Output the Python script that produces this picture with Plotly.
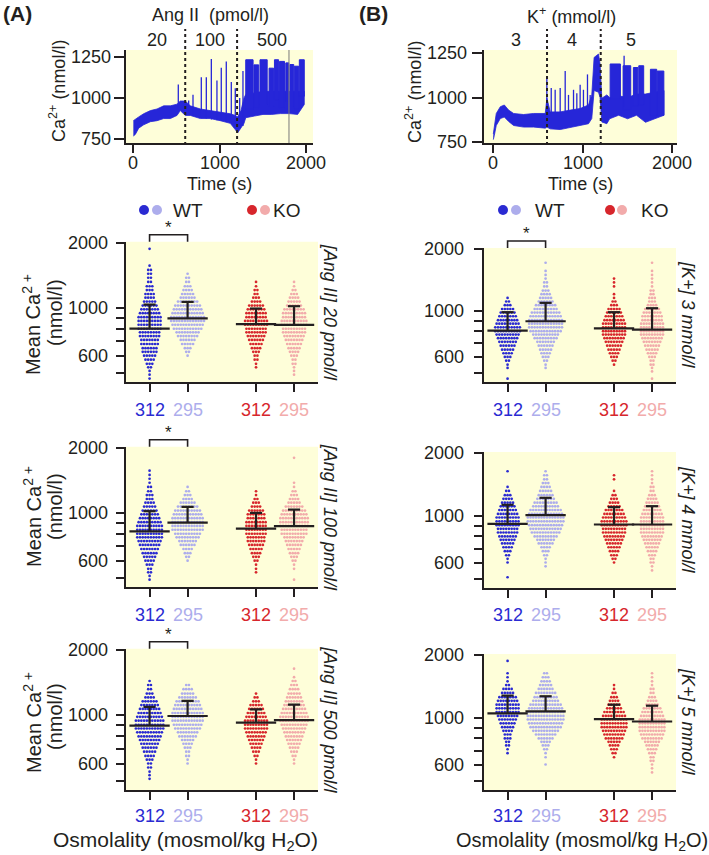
import plotly.graph_objects as go
import math

W, H = 709, 855
FONT = "Liberation Sans, Arial, Helvetica, sans-serif"
INK = "#231f20"
BG = "#fefed9"
TRACE_BLUE = "#2626d8"

# ------------------------------------------------------------------ data
TIME_TICKS = [0, 1000, 2000]
TRACE_TICKS = [750, 1000, 1250]
CA_TICKS = [500, 600, 700, 800, 900, 1000, 2000]
CA_TICK_TEXT = ["", "600", "", "", "", "1000", "2000"]

GROUP_LABELS = ["312", "295", "312", "295"]
GROUP_X = [1.0, 2.0, 3.8, 4.8]
GROUP_COLORS = ["#2a2ad2", "#adadec", "#d7262c", "#f2abab"]

# Ca2+ value of each dot row (nmol/l)
BINS = [470, 490, 510, 530, 550, 575, 600, 625, 650, 680, 710, 740, 770, 800, 835,
        870, 905, 945, 985, 1025, 1070, 1115, 1160, 1210, 1260, 1320, 1380, 1440,
        1500, 1570, 1640, 1720, 1800, 1880]

# cells per row, for WT312, WT295, KO312, KO295
COUNTS_ANG20 = [
    [1,1,1,2,3, 4,5,6,6,7, 7,8,8,9,9, 9,9,8,7,6, 5,4,4,3,3, 2,2,2,2,1, 0,0,0,1],
    [0,0,0,0,0, 0,1,2,3,5, 6,8,9,11,12, 13,13,12,11,10, 8,6,5,4,3, 2,2,1,0,0, 0,0,0,0],
    [0,0,0,1,1, 2,2,3,4,5, 6,7,8,8,9, 9,8,8,7,6, 4,3,2,2,1, 1,0,0,0,0, 0,0,0,0],
    [0,1,1,1,2, 2,3,4,5,6, 7,8,9,9,10, 10,9,9,8,6, 5,4,3,2,1, 1,0,0,0,0, 0,0,0,0],
]
COUNTS_ANG100 = [
    [0,1,1,2,2, 3,4,5,6,7, 8,9,10,10,10, 10,9,8,7,6, 5,4,3,3,2, 2,1,1,1,1, 0,0,0,0],
    [0,0,0,0,0, 0,1,2,3,4, 6,7,9,10,12, 12,12,12,11,10, 8,6,4,3,2, 1,0,0,0,0, 0,0,0,0],
    [0,0,0,1,1, 1,2,3,4,5, 6,7,7,8,8, 8,8,7,7,6, 4,3,2,1,1, 0,0,0,0,0, 0,0,0,0],
    [0,1,0,0,1, 1,2,3,4,5, 6,7,8,10,10, 11,11,11,10,9, 7,5,4,3,2, 1,1,0,0,0, 0,0,1,0],
]
COUNTS_ANG500 = [
    [0,0,1,1,1, 2,2,3,4,5, 6,7,8,9,10, 11,11,11,10,9, 8,7,6,4,3, 2,2,1,0,0, 0,0,0,0],
    [0,0,0,0,0, 0,1,1,2,2, 3,4,5,7,8, 10,11,12,12,12, 11,10,9,7,5, 4,2,0,0,0, 0,0,0,0],
    [0,0,0,0,0, 0,1,1,2,3, 4,5,6,7,8, 9,9,9,8,7, 6,5,3,2,1, 0,0,0,0,0, 0,0,0,0],
    [0,0,0,0,0, 0,1,1,2,3, 4,5,6,7,8, 9,10,11,11,10, 9,8,7,6,5, 4,3,2,1,0, 1,0,0,0],
]
COUNTS_K3 = [
    [1,0,0,1,1, 2,3,4,5,6, 7,8,9,10,10, 9,8,7,6,5, 3,2,1,0,0, 0,0,0,0,0, 0,0,0,0],
    [0,0,0,1,1, 2,3,4,5,6, 7,9,10,12,13, 13,13,12,11,9, 8,6,5,4,3, 2,2,1,1,1, 0,1,0,0],
    [0,0,0,0,1, 2,3,4,5,6, 7,8,9,9,9, 9,8,7,6,5, 3,2,1,1,0, 1,1,1,0,0, 0,0,0,0],
    [1,0,1,1,2, 2,3,4,5,6, 7,8,9,9,9, 9,8,8,7,6, 4,3,3,2,2, 1,1,1,1,1, 0,1,0,0],
]
COUNTS_K4 = [
    [0,0,1,0,0, 0,1,1,2,3, 4,5,6,7,8, 8,9,9,9,8, 7,6,5,4,3, 2,1,0,0,0, 1,0,0,0],
    [0,0,0,0,0, 1,1,1,2,3, 4,6,7,9,11, 12,13,14,14,13, 12,10,9,7,6, 5,4,3,2,2, 1,0,0,0],
    [0,0,0,0,0, 0,1,2,3,4, 5,6,7,8,9, 9,10,10,9,8, 7,5,4,3,2, 1,0,0,1,1, 0,0,0,0],
    [0,0,0,0,1, 1,2,2,3,4, 5,6,7,8,9, 9,9,9,9,8, 7,6,5,4,3, 2,2,1,1,1, 1,0,0,0],
]
COUNTS_K5 = [
    [0,0,0,0,0, 0,0,0,0,1, 1,2,2,3,3, 4,5,6,7,8, 9,9,9,8,7, 5,4,2,1,1, 1,0,0,1],
    [0,0,0,0,0, 0,1,0,1,1, 2,3,4,6,8, 10,12,13,14,14, 14,13,12,10,9, 8,6,5,4,3, 2,0,0,0],
    [0,0,0,0,0, 0,0,0,1,2, 3,4,5,7,8, 9,10,10,10,9, 8,6,5,4,3, 2,1,1,0,0, 0,0,0,0],
    [0,0,0,0,1, 1,1,2,2,3, 4,5,6,8,9, 10,10,10,10,9, 8,7,5,4,3, 2,2,1,1,1, 1,0,0,0],
]

MEAN_ANG20 = [802, 893, 840, 834]
SDTOP_ANG20 = [1036, 1066, 993, 1018]
MEAN_ANG100 = [820, 902, 846, 868]
SDTOP_ANG100 = [1018, 1066, 1000, 1036]
MEAN_ANG500 = [896, 993, 925, 951]
SDTOP_ANG500 = [1093, 1165, 1066, 1121]
MEAN_K3 = [805, 894, 826, 814]
SDTOP_K3 = [989, 1098, 989, 1034]
MEAN_K4 = [919, 1011, 912, 912]
SDTOP_K4 = [1133, 1224, 1104, 1116]
MEAN_K5 = [1053, 1077, 989, 964]
SDTOP_K5 = [1282, 1273, 1160, 1147]

PANEL_LABELS = ["[Ang II] 20 pmol/l", "[Ang II] 100 pmol/l", "[Ang II] 500 pmol/l",
                "[K+] 3 mmol/l", "[K+] 4 mmol/l", "[K+] 5 mmol/l"]
SIGNIFICANT = [True, True, True, True, False, False]

# example Ca2+ traces: envelope of the fast oscillation (time s, low, high)
TRACE_A_T = [0, 23, 62, 119, 197, 274, 351, 428, 505, 543, 601, 659, 775, 890, 1006,
             1121, 1179, 1206, 1245, 1280, 1300, 1400, 1500, 1600, 1700, 1800, 1900, 1977]
TRACE_A_LO = [769, 779, 817, 837, 856, 862, 875, 875, 894, 923, 894, 894, 875, 875, 862,
              846, 808, 788, 817, 846, 880, 890, 900, 900, 905, 905, 900, 960]
TRACE_A_HI = [862, 869, 885, 904, 923, 933, 952, 952, 962, 981, 981, 952, 933, 923, 913,
              904, 894, 885, 923, 1000, 1020, 1030, 1040, 1040, 1040, 1040, 1040, 1040]
SPIKE_A_T = [520, 640, 690, 786, 844, 902, 967, 1017, 1075, 1133, 1179, 1230, 1268]
SPIKE_A_BASE = [930, 900, 890, 880, 875, 870, 865, 860, 855, 850, 840, 820, 830]
SPIKE_A_PEAK = [1081, 985, 1019, 1125, 1125, 1235, 1106, 1183, 1221, 1096, 1058, 1000, 1163]
BURST_A_START = [1300, 1395, 1465, 1570, 1632, 1690, 1763, 1812, 1862, 1920]
BURST_A_END = [1385, 1450, 1548, 1622, 1680, 1748, 1798, 1855, 1912, 1977]
BURST_A_LO = [930, 940, 960, 950, 990, 940, 980, 950, 930, 1010]
BURST_A_HI = [1231, 1200, 1231, 1180, 1231, 1221, 1212, 1202, 1192, 1231]

TRACE_B_T = [0, 11, 33, 78, 123, 171, 227, 338, 450, 580, 599, 636, 747, 859, 970, 1063,
             1100, 1126, 1175, 1193, 1212, 1268, 1300, 1400, 1500, 1600, 1700, 1800, 1907]
TRACE_B_LO = [762, 785, 842, 881, 890, 865, 842, 833, 833, 827, 833, 823, 819, 833, 842,
              852, 881, 1040, 1030, 1000, 862, 852, 880, 900, 880, 900, 860, 880, 900]
TRACE_B_HI = [794, 842, 910, 948, 958, 929, 910, 904, 910, 910, 996, 919, 919, 929, 938,
              958, 1015, 1227, 1246, 1188, 996, 1015, 1000, 1010, 1000, 1020, 1020, 1030, 1040]
SPIKE_B_T = [598, 647, 691, 747, 803, 840, 896, 933, 970, 1007, 1052, 1082, 1461]
SPIKE_B_BASE = [900, 910, 910, 915, 920, 920, 925, 930, 935, 940, 950, 955, 950]
SPIKE_B_PEAK = [1121, 1054, 1044, 1054, 1150, 1015, 1044, 1025, 1073, 1044, 1131, 1015, 1237]
BURST_B_START = [1305, 1450, 1565, 1625, 1755, 1830]
BURST_B_END = [1420, 1535, 1615, 1680, 1825, 1905]
BURST_B_LO = [990, 930, 950, 960, 900, 900]
BURST_B_HI = [1190, 1180, 1170, 1180, 1160, 1150]

# ------------------------------------------------------------------ layout geometry (px)
TOP_Y = (50, 143)
TRACE_COLS = [(126, 313), (484, 677)]
TRACE_XR = [(-85, 2078), (-104, 2052)]
TRACE_YR = [(727, 1290), (743, 1269)]
COL_X = [(126, 318), (484, 676)]
ROWS = [[(241.7, 382), (446.7, 587), (648.7, 790)],
        [(248, 382), (452, 588), (654, 790)]]
LABEL_Y = [410, 615, 816]
CAT_RANGE = (0.38, 5.43)
Y_RANGE = (math.log10(453), math.log10(2028))
DX = 0.072
HALF_MEAN = 0.53
HALF_CAP = 0.16
TICK_FONT = 18


def fx(px):
    return px / W


def fy(py):
    return 1 - py / H


def aname(k, a):
    return (a + "axis") if k == 1 else f"{a}axis{k}"


def aref(k, a):
    return a if k == 1 else f"{a}{k}"


def axis_common(**kw):
    d = dict(showline=True, linewidth=2, linecolor=INK, ticks="outside", ticklen=8,
             tickwidth=2, tickcolor=INK, showgrid=False, zeroline=False,
             showticklabels=False, fixedrange=True)
    d.update(kw)
    return d


fig = go.Figure()
layout = {}
shapes = []
ann = []


def text(x, y, s, size=17, color=INK, xanchor="center", yanchor="middle", angle=0,
         xref="paper", yref="paper"):
    ann.append(dict(x=x, y=y, xref=xref, yref=yref, text=s, showarrow=False,
                    font=dict(size=size, color=color, family=FONT), xanchor=xanchor,
                    yanchor=yanchor, textangle=angle))


def polygon(xs, ys, xr, yr, width=0.8):
    fig.add_trace(go.Scatter(x=xs, y=ys, mode="lines", fill="toself",
                             fillcolor=TRACE_BLUE, line=dict(color=TRACE_BLUE, width=width),
                             xaxis=xr, yaxis=yr, hoverinfo="skip"))


# ------------------------------------------------------------------ top traces
trace_sets = [
    (TRACE_A_T, TRACE_A_LO, TRACE_A_HI, SPIKE_A_T, SPIKE_A_BASE, SPIKE_A_PEAK,
     BURST_A_START, BURST_A_END, BURST_A_LO, BURST_A_HI),
    (TRACE_B_T, TRACE_B_LO, TRACE_B_HI, SPIKE_B_T, SPIKE_B_BASE, SPIKE_B_PEAK,
     BURST_B_START, BURST_B_END, BURST_B_LO, BURST_B_HI),
]
TRACE_LABEL_RIGHT = [113, 469]
for i, (T, LO, HI, ST, SB, SP, BS, BE, BL, BH) in enumerate(trace_sets):
    k = i + 1
    xr, yr = aref(k, "x"), aref(k, "y")
    polygon(T + T[::-1], HI + LO[::-1], xr, yr)
    for s, e, lo, hi in zip(BS, BE, BL, BH):
        polygon([s, s, e, e, s], [lo, hi, hi, lo, lo], xr, yr, width=1)
    sx, sy = [], []
    for t, b, p in zip(ST, SB, SP):
        sx += [t, t, None]
        sy += [b, p, None]
    fig.add_trace(go.Scatter(x=sx, y=sy, mode="lines", line=dict(color=TRACE_BLUE, width=1.3),
                             xaxis=xr, yaxis=yr, hoverinfo="skip"))
    c0, c1 = TRACE_COLS[i]
    layout[aname(k, "x")] = axis_common(domain=[fx(c0), fx(c1)], range=list(TRACE_XR[i]),
                                        tickvals=TIME_TICKS, anchor=yr)
    layout[aname(k, "y")] = axis_common(domain=[fy(TOP_Y[1]), fy(TOP_Y[0])],
                                        range=list(TRACE_YR[i]), tickvals=TRACE_TICKS,
                                        anchor=xr, ticklen=10)
    shapes.append(dict(type="rect", xref=f"{xr} domain", yref=f"{yr} domain", x0=0, x1=1,
                       y0=0, y1=1, fillcolor=BG, line=dict(width=0), layer="below"))
    for tline in (600, 1200):
        shapes.append(dict(type="line", xref=xr, yref="paper", x0=tline, x1=tline,
                           y0=fy(145), y1=fy(29), line=dict(color=INK, width=2, dash="dot"),
                           layer="above"))
    for tv in TIME_TICKS:
        text(tv, fy(163), f"{tv}", size=TICK_FONT, xref=xr)
    for cv in TRACE_TICKS:
        text(fx(TRACE_LABEL_RIGHT[i]), cv, f"{cv}", size=TICK_FONT, xanchor="right", yref=yr)
    text(fx((c0 + c1) / 2), fy(184), "Time (s)", size=18)

shapes.append(dict(type="line", xref="x", yref="paper", x0=1800, x1=1800, y0=fy(143),
                   y1=fy(50), line=dict(color="#7a7a7a", width=1), layer="above"))

text(fx(58), fy(91), "Ca<sup>2+</sup> (nmol/l)", size=18, angle=-90)
text(fx(413), fy(92), "Ca<sup>2+</sup> (nmol/l)", size=18, angle=-90)
text(fx(1), fy(14), "<b>(A)</b>", size=21, xanchor="left")
text(fx(357), fy(14), "<b>(B)</b>", size=21, xanchor="left")
text(fx(210), fy(15), "Ang II\u00a0 (pmol/l)", size=18)
text(fx(571), fy(15), "K<sup>+</sup> (mmol/l)", size=18)
for t, s in zip([274, 887, 1600], ["20", "100", "500"]):
    text(t, fy(40), s, size=18, xref="x")
for t, s in zip([257, 883, 1535], ["3", "4", "5"]):
    text(t, fy(40), s, size=18, xref="x2")

# ------------------------------------------------------------------ legend (pixel overlay)
OVR = 9
leg_x, leg_y, leg_c = [], [], []
for (d1, d2, r1, r2) in [(144, 157, 252, 265), (503, 516, 610, 622)]:
    leg_x += [d1, d2, r1, r2]
    leg_y += [210] * 4
    leg_c += GROUP_COLORS
fig.add_trace(go.Scatter(x=leg_x, y=leg_y, mode="markers",
                         marker=dict(size=10, color=leg_c, line=dict(width=0)),
                         xaxis=f"x{OVR}", yaxis=f"y{OVR}", hoverinfo="skip"))
for x0, s in [(171, "WT"), (271, "KO"), (533, "WT"), (639, "KO")]:
    text(fx(x0), fy(210), s, size=19, xanchor="left")

# ------------------------------------------------------------------ scatter panels
panels = [
    (COUNTS_ANG20, MEAN_ANG20, SDTOP_ANG20),
    (COUNTS_ANG100, MEAN_ANG100, SDTOP_ANG100),
    (COUNTS_ANG500, MEAN_ANG500, SDTOP_ANG500),
    (COUNTS_K3, MEAN_K3, SDTOP_K3),
    (COUNTS_K4, MEAN_K4, SDTOP_K4),
    (COUNTS_K5, MEAN_K5, SDTOP_K5),
]
CA_LABEL_RIGHT = [110, 466]
br_x, br_y = [], []
for p, (counts, means, tops) in enumerate(panels):
    col, row = p // 3, p % 3
    k = 3 + p
    xr, yr = aref(k, "x"), aref(k, "y")
    c0, c1 = COL_X[col]
    r0, r1 = ROWS[col][row]
    layout[aname(k, "x")] = axis_common(domain=[fx(c0), fx(c1)], range=list(CAT_RANGE),
                                        tickvals=GROUP_X, anchor=yr)
    layout[aname(k, "y")] = axis_common(domain=[fy(r1), fy(r0)], range=list(Y_RANGE),
                                        type="log", tickvals=CA_TICKS, anchor=xr)
    shapes.append(dict(type="rect", xref=f"{xr} domain", yref=f"{yr} domain", x0=0, x1=1,
                       y0=0, y1=1, fillcolor=BG, line=dict(width=0), layer="below"))
    for cv, ct in zip(CA_TICKS, CA_TICK_TEXT):
        if ct:
            text(fx(CA_LABEL_RIGHT[col]), math.log10(cv), ct, size=TICK_FONT,
                 xanchor="right", yref=yr)
    for g in range(4):
        xs, ys = [], []
        for b, n in zip(BINS, counts[g]):
            for j in range(n):
                xs.append(GROUP_X[g] + (j - (n - 1) / 2) * DX)
                ys.append(b)
        fig.add_trace(go.Scatter(x=xs, y=ys, mode="markers",
                                 marker=dict(size=2.7, color=GROUP_COLORS[g], line=dict(width=0)),
                                 xaxis=xr, yaxis=yr, hoverinfo="skip"))
    lx, ly = [], []
    for g in range(4):
        xc = GROUP_X[g]
        lx += [xc - HALF_MEAN, xc + HALF_MEAN, None, xc, xc, None,
               xc - HALF_CAP, xc + HALF_CAP, None]
        ly += [means[g], means[g], None, means[g], tops[g], None, tops[g], tops[g], None]
    fig.add_trace(go.Scatter(x=lx, y=ly, mode="lines", line=dict(color=INK, width=2.2),
                             xaxis=xr, yaxis=yr, hoverinfo="skip"))
    for g in range(4):
        text(GROUP_X[g], fy(LABEL_Y[row]), GROUP_LABELS[g], size=18, color=GROUP_COLORS[g],
             xref=xr)
    rx = 330 if col == 0 else 688
    text(fx(rx), fy((r0 + r1) / 2), f"<i>{PANEL_LABELS[p]}</i>", size=18, angle=90)
    if SIGNIFICANT[p]:
        def cpx(v):
            return c0 + (v - CAT_RANGE[0]) / (CAT_RANGE[1] - CAT_RANGE[0]) * (c1 - c0)
        xa, xb = cpx(GROUP_X[0]), cpx(GROUP_X[1])
        top = r0 - 7
        br_x += [xa, xa, xb, xb, None]
        br_y += [r0, top, top, r0, None]
        text(fx((xa + xb) / 2), fy(top - 7), "*", size=17)

fig.add_trace(go.Scatter(x=br_x, y=br_y, mode="lines", line=dict(color=INK, width=1.6),
                         xaxis=f"x{OVR}", yaxis=f"y{OVR}", hoverinfo="skip"))

for (l1, l2) in [(325, 313), (517, 507), (723, 717)]:
    text(fx(32), fy(l1), "Mean Ca<sup>2 +</sup>", size=20, angle=-90)
    text(fx(55), fy(l2), "(nmol/l)", size=20, angle=-90)

text(fx(185), fy(841), "Osmolality (mosmol/kg H<sub>2</sub>O)", size=21)
text(fx(582), fy(841), "Osmolality (mosmol/kg H<sub>2</sub>O)", size=20)

layout[f"xaxis{OVR}"] = dict(domain=[0, 1], range=[0, W], visible=False, fixedrange=True,
                             anchor=f"y{OVR}")
layout[f"yaxis{OVR}"] = dict(domain=[0, 1], range=[H, 0], visible=False, fixedrange=True,
                             anchor=f"x{OVR}")

fig.update_layout(width=W, height=H, margin=dict(l=0, r=0, t=0, b=0),
                  paper_bgcolor="white", plot_bgcolor="rgba(0,0,0,0)", showlegend=False,
                  font=dict(family=FONT, color=INK), shapes=shapes, annotations=ann,
                  **layout)
fig.write_html("out.html")
